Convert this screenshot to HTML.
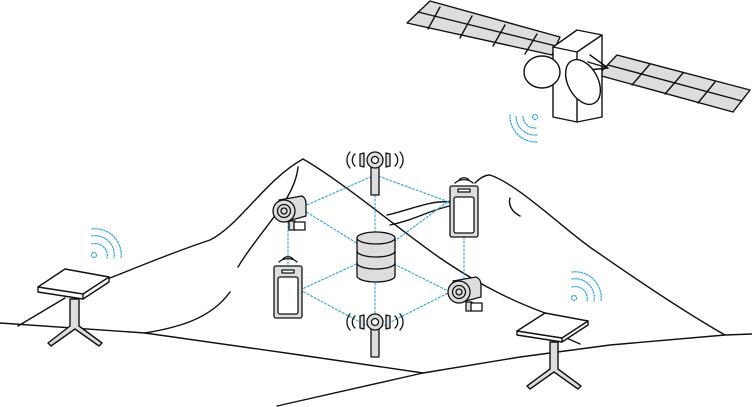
<!DOCTYPE html>
<html><head><meta charset="utf-8"><style>html,body{margin:0;padding:0;background:#fff}svg{display:block}</style></head><body>
<svg width="752" height="407" viewBox="0 0 752 407" xmlns="http://www.w3.org/2000/svg" fill="none" stroke="#111" stroke-width="1.4" stroke-linejoin="round" stroke-linecap="round">
<!-- ground / hills -->
<path d="M0,323 L145,333 L300,355 L423,373"/>
<path d="M277,406 L423,373 L520,357 L610,345 L725,335 L752,334"/>
<path d="M18,326 L65,298"/>
<path d="M110,278 C150,262 180,250 210,240 C240,225 265,180 303,159 C340,180 400,230 440,258 C480,285 510,300 545,313"/>
<path d="M562,336 L580,344"/>
<path d="M298,167 C295,200 260,230 238,267"/>
<path d="M230,292 C210,320 175,328 145,333"/>
<path d="M387,215 C410,210 430,200 450,202"/>
<path d="M390,225 C415,220 430,210 450,206"/>
<path d="M475,183 C480,178 485,175 490,175 C520,185 570,235 597,252 C640,282 690,315 725,335"/>
<path d="M510,198 C508,205 512,212 520,216"/>
<!-- dishes -->
<g fill="#fff">
<path d="M38,287 L65,269 L109,277 L109,282 L83,299 L38,292 Z"/>
<path d="M38,287 L83,294 L109,277 M83,294 L83,299"/>
<path d="M70,299 L79,299 L79,326 L102,343 L99,346 L75,329 L51,346 L48,343 L70,326 Z" fill="#ddd"/>
<path d="M517,331 L545,313 L588,321 L588,325 L562,342 L517,335 Z"/>
<path d="M517,331 L562,338 L588,321 M562,338 L562,342"/>
<path d="M550,342 L558,342 L558,369 L581,386 L578,389 L554,372 L530,389 L527,386 L550,369 Z" fill="#ddd"/>
</g>
<!-- wifi -->
<g stroke="#2aa3e0" stroke-dasharray="1.5 1.5" stroke-width="1.2">
<circle cx="94" cy="255" r="2.5"/><path d="M92,244 A12,12 0 0 1 107,258 M92,236 A19,19 0 0 1 114,258 M92,229 A26,26 0 0 1 121,258"/>
<circle cx="574" cy="298" r="2.5"/><path d="M572,287 A12,12 0 0 1 587,301 M572,279 A19,19 0 0 1 594,301 M572,272 A26,26 0 0 1 601,301"/>
<circle cx="535" cy="117" r="2.5"/><path d="M536,128 A12,12 0 0 1 523,115 M537,135 A19,19 0 0 1 516,115 M537,142 A26,26 0 0 1 510,115"/>
</g>
<!-- satellite -->
<g>
<path d="M407,23 L430,1 L560,37 L552,55 Z" fill="#ddd"/>
<path d="M418,12 L556,46 M440,7 L428,29 M472,16 L460,38 M505,25 L493,46 M537,34 L525,54"/>
<path d="M598,75 L617,55 L750,90 L733,112 Z" fill="#ddd"/>
<path d="M608,65 L742,101 M650,64 L632,85 M683,73 L665,94 M715,82 L698,103"/>
<path d="M553,47 L577,30 L602,35 L602,117 L577,122 L553,117 Z" fill="#fff"/>
<path d="M553,47 L577,52 L602,35 M577,52 L577,122"/>
<path d="M590,55 L608,68 M588,62 L608,68 M588,70 L608,68"/>
<ellipse cx="542" cy="72" rx="18" ry="16" fill="#fff"/>
<ellipse cx="583" cy="82" rx="15" ry="24" transform="rotate(-28 583 82)" fill="#fff"/>
</g>
<!-- network lines -->
<g stroke="#2aa3e0" stroke-dasharray="2 2" stroke-width="1.1">
<path d="M375,175 L300,208 M375,175 L452,203 M375,175 L375,330 M300,208 L376,255 L450,200 M288,210 L288,268 M464,237 L464,285 M300,290 L376,255 L450,292 M300,290 L375,330 L450,292"/>
</g>
<!-- devices -->
<g fill="#ddd" stroke-width="1.3">
<rect x="371" y="166" width="8" height="29"/>
<circle cx="375" cy="160" r="8"/><circle cx="375" cy="160" r="3.5" fill="#fff"/>
<path d="M364,153 L360,154 L360,166 L364,167 Z M386,153 L390,154 L390,166 L386,167 Z"/>
<path d="M355,154 A8,8 0 0 0 355,166 M350,152 A12,12 0 0 0 350,168 M395,154 A8,8 0 0 1 395,166 M400,152 A12,12 0 0 1 400,168" fill="none"/>
<rect x="371" y="328" width="8" height="29"/>
<circle cx="375" cy="322" r="8"/><circle cx="375" cy="322" r="3.5" fill="#fff"/>
<path d="M364,315 L360,316 L360,328 L364,329 Z M386,315 L390,316 L390,328 L386,329 Z"/>
<path d="M355,316 A8,8 0 0 0 355,328 M350,314 A12,12 0 0 0 350,330 M395,316 A8,8 0 0 1 395,328 M400,314 A12,12 0 0 1 400,330" fill="none"/>
<path d="M357,238 L357,276 A19,6 0 0 0 395,276 L395,238"/>
<ellipse cx="376" cy="238" rx="19" ry="6"/>
<path d="M357,251 A19,6 0 0 0 395,251 M357,263 A19,6 0 0 0 395,263" fill="none"/>
<rect x="274" y="266" width="28" height="52" rx="2"/><rect x="278" y="277" width="20" height="37" rx="2" fill="#fff"/><rect x="282" y="270" width="12" height="3" fill="#fff"/>
<path d="M279,262 A12,10 0 0 1 297,262 M283,259 A6,5 0 0 1 293,259" fill="none"/>
<rect x="450" y="186" width="28" height="51" rx="2"/><rect x="454" y="197" width="20" height="36" rx="2" fill="#fff"/><rect x="458" y="189" width="12" height="3" fill="#fff"/>
<path d="M455,183 A12,10 0 0 1 473,183 M459,180 A6,5 0 0 1 469,180" fill="none"/>
<!-- cameras -->
<path d="M279,200 L302,196 Q306,198 306,204 L306,216 L284,222 Z"/>
<circle cx="284" cy="211" r="11"/><circle cx="284" cy="211" r="6.5"/><circle cx="284" cy="211" r="3"/>
<rect x="289" y="221" width="6" height="9"/><rect x="294" y="222" width="11" height="8" fill="#fff"/>
<path d="M453,281 L476,277 Q481,279 481,285 L481,297 L458,303 Z"/>
<circle cx="459" cy="292" r="11"/><circle cx="459" cy="292" r="6.5"/><circle cx="459" cy="292" r="3"/>
<rect x="466" y="302" width="6" height="9"/><rect x="471" y="303" width="11" height="8" fill="#fff"/>
</g>
</svg>
</body></html>
